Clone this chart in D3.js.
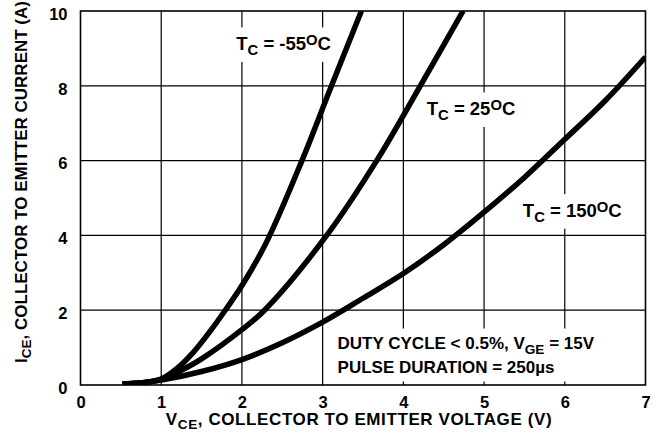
<!DOCTYPE html>
<html><head><meta charset="utf-8">
<script src="https://cdn.jsdelivr.net/npm/d3@7"></script>
<style>
html,body{margin:0;padding:0;background:#fff;}
text{font-family:"Liberation Sans",Arial,Helvetica,sans-serif;font-weight:bold;fill:#000;}
</style></head>
<body><svg id="c" width="660" height="447"></svg>
<script>
const xTicks = [0,1,2,3,4,5,6,7];
const yTicks = [0,2,4,6,8,10];
const curveM55 = [[0.52,0.03],[0.8,0.07],[1,0.16],[1.2,0.45],[1.4,0.88],[1.6,1.42],[1.8,2.02],[2,2.66],[2.3,3.8],[2.74,5.98],[3.1,7.95],[3.48,10]];
const curve25  = [[0.52,0.03],[0.8,0.07],[1,0.15],[1.2,0.34],[1.5,0.70],[2,1.48],[2.28,2.0],[3.05,4],[3.67,6],[4.21,8],[4.74,10]];
const curve150 = [[0.52,0.03],[0.8,0.07],[1,0.13],[1.5,0.36],[2,0.68],[2.5,1.13],[3,1.68],[3.5,2.32],[4,2.98],[4.5,3.75],[5,4.62],[5.5,5.55],[6,6.57],[6.5,7.6],[7,8.77]];
const seriesTemps = ["-55","25","150"];

const svg = d3.select("#c");
const x = d3.scaleLinear().domain([0,7]).range([80.5,645.5]);
const y = d3.scaleLinear().domain([0,10]).range([385,11]);

const gridLayer = svg.append("g");
const boxLayer = svg.append("g");
const textLayer = svg.append("g");
const curveLayer = svg.append("g");

// grid
gridLayer.selectAll("line.v").data(xTicks.slice(1,-1)).join("line")
  .attr("x1",d=>x(d)).attr("x2",d=>x(d)).attr("y1",y(0)).attr("y2",y(10))
  .attr("stroke","#000").attr("stroke-width",1.2);
gridLayer.selectAll("line.h").data(yTicks.slice(1,-1)).join("line")
  .attr("y1",d=>y(d)).attr("y2",d=>y(d)).attr("x1",x(0)).attr("x2",x(7))
  .attr("stroke","#000").attr("stroke-width",1.2);

// axis tick labels via d3 axes
const xAxis = svg.append("g").attr("transform",`translate(0,${y(0)})`)
  .call(d3.axisBottom(x).tickValues(xTicks).tickSize(0).tickPadding(11).tickFormat(d3.format("d")));
const yAxis = svg.append("g").attr("transform",`translate(${x(0)},0)`)
  .call(d3.axisLeft(y).tickValues(yTicks).tickSize(0).tickPadding(13).tickFormat(d3.format("d")));
[xAxis,yAxis].forEach(a=>{a.select(".domain").remove();a.selectAll("text").style("font-size","16.5px").style("font-family",'"Liberation Sans",Arial,sans-serif').style("font-weight","bold").attr("fill","#000");});
yAxis.selectAll("text").attr("dy","0.5em");

// labels with white boxes
function label(vx, vy, parts, size, subScale){
  const t = textLayer.append("text").attr("x",x(vx)).attr("y",y(vy)).style("font-size",size+"px");
  parts.forEach(p=>{
    const s = t.append("tspan").text(p[0]);
    if(p[1]==="sub"){ s.style("font-size",(size*subScale)+"px").attr("dy",5); }
    else if(p[1]==="sup"){ s.style("font-size",(size*subScale)+"px").attr("dy",-5); }
    else if(p[1]==="back"){ s.attr("dy",5); }
    else if(p[1]==="down"){ s.attr("dy",-5); }
  });
  return t;
}
function boxBehind(nodes, padX, padTop, padBot){
  let x0=1e9,y0=1e9,x1=-1e9,y1=-1e9;
  nodes.forEach(n=>{const b=n.node().getBBox();x0=Math.min(x0,b.x);y0=Math.min(y0,b.y);x1=Math.max(x1,b.x+b.width);y1=Math.max(y1,b.y+b.height);});
  boxLayer.append("rect").attr("x",x0-padX).attr("y",y0-padTop).attr("width",x1-x0+2*padX).attr("height",y1-y0+padTop+padBot).attr("fill","#fff");
}
const lm55 = label(1.93, 8.96, [["T"],["C","sub"],[" = -55","down"],["O","sup"],["C","back"]], 18.5, 0.8);
const l25  = label(4.29, 7.22, [["T"],["C","sub"],[" = 25","down"],["O","sup"],["C","back"]], 18.5, 0.8);
const l150 = label(5.48, 4.50, [["T"],["C","sub"],[" = 150","down"],["O","sup"],["C","back"]], 18.5, 0.8);
const ld1 = label(3.185, 0.975, [["DUTY CYCLE < 0.5%, V"],["GE","sub"],[" = 15V","down"]], 17, 0.8);
const ld2 = label(3.185, 0.334, [["PULSE DURATION = 250µs"]], 17, 0.8);
boxBehind([lm55],4,4.5,4);
boxBehind([l25],4,4.5,4);
boxBehind([l150],4,4.5,4);
boxBehind([ld1,ld2],4,5,5);

// border
svg.append("rect").attr("x",x(0)).attr("y",y(10)).attr("width",x(7)-x(0)).attr("height",y(0)-y(10))
  .attr("fill","none").attr("stroke","#000").attr("stroke-width",1.6);

// curves
svg.append("clipPath").attr("id","clip").append("rect").attr("x",x(0)).attr("y",y(10)).attr("width",x(7)-x(0)).attr("height",y(0)-y(10));
const line = d3.line().x(d=>x(d[0])).y(d=>y(d[1])).curve(d3.curveCatmullRom.alpha(0.5));
[curveM55,curve25,curve150].forEach((c,i)=>{
  curveLayer.append("path").datum(c).attr("d",line).attr("fill","none").attr("stroke","#000")
    .attr("stroke-width",5.5).attr("clip-path","url(#clip)").attr("data-temp",seriesTemps[i]);
});

// axis titles
const xt = svg.append("text").attr("x",(163+555)/2).attr("y",425).attr("text-anchor","middle").style("font-size","17px").style("letter-spacing","0.6px");
xt.append("tspan").text("V");
xt.append("tspan").text("CE").style("font-size","13.5px").attr("dy",4);
xt.append("tspan").text(", COLLECTOR TO EMITTER VOLTAGE (V)").attr("dy",-4);
const yt = svg.append("text").attr("transform","translate(27,182) rotate(-90)").attr("text-anchor","middle").style("font-size","17px");
yt.append("tspan").text("I");
yt.append("tspan").text("CE").style("font-size","13.5px").attr("dy",4);
yt.append("tspan").text(", COLLECTOR TO EMITTER CURRENT (A)").attr("dy",-4);
</script></body></html>
